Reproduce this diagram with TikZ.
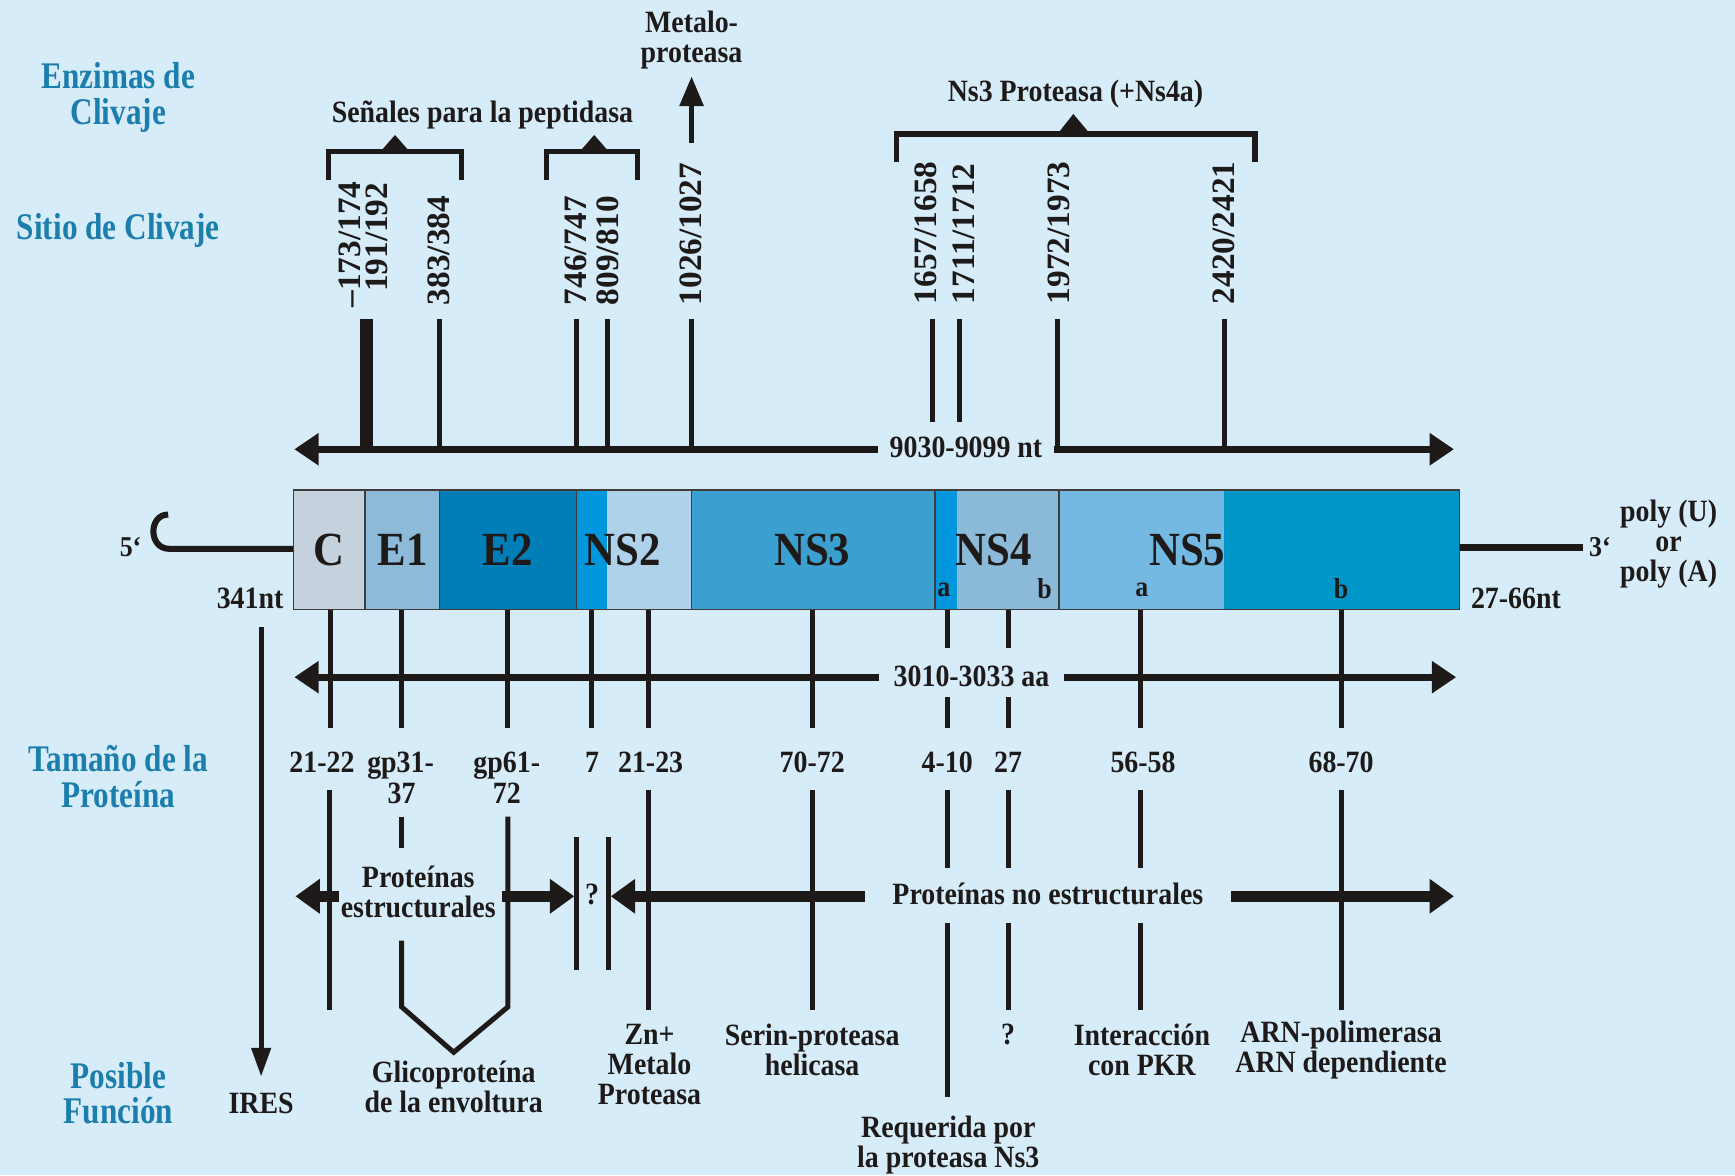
\documentclass[tikz,border=0pt]{standalone}
\usepackage{fontspec}
\setmainfont{Liberation Serif}[FakeStretch=0.9]
\newfontfamily\bluefam{Liberation Serif}[FakeStretch=0.83]
\newfontfamily\sitefam{Liberation Serif}[FakeStretch=1.02]
\usetikzlibrary{arrows.meta}
\definecolor{bg}{RGB}{214,236,248}
\definecolor{lbl}{RGB}{28,126,172}
\definecolor{ink}{RGB}{30,26,26}
\definecolor{cC}{RGB}{197,210,222}
\definecolor{cE1}{RGB}{140,186,216}
\definecolor{cE2}{RGB}{0,126,184}
\definecolor{cSt}{RGB}{0,150,220}
\definecolor{cNS2}{RGB}{173,210,234}
\definecolor{cNS3}{RGB}{59,160,208}
\definecolor{cNS4}{RGB}{139,185,216}
\definecolor{cNS5a}{RGB}{116,185,226}
\definecolor{cNS5b}{RGB}{0,150,200}
\begin{document}
\begin{tikzpicture}[x=1pt,y=-1pt,
  every node/.style={inner sep=0pt,text=ink},
  tx/.style={font=\fontsize{28}{27}\selectfont\bfseries,align=center},
  blab/.style={font=\bluefam\fontsize{34}{32}\selectfont\bfseries,text=lbl,align=center},
  site/.style={font=\sitefam\fontsize{29.5}{30}\selectfont\bfseries,rotate=90},
  segl/.style={font=\fontsize{43}{44}\selectfont\bfseries},
  sub/.style={font=\fontsize{26}{26}\selectfont\bfseries},
  tick/.style={draw=ink,line width=4.5pt},
  brk/.style={draw=ink,line width=5pt},
  tri/.style={fill=ink},
  scalearrow/.style={draw=ink,line width=6.5pt,-{Triangle[length=22pt,width=28pt]}},
  fatarrow/.style={draw=ink,line width=9.5pt,-{Triangle[length=22pt,width=30pt]}},
  border/.style={draw=ink!85,line width=1.3pt}
]
\fill[bg] (0,0) rectangle (1568,1062);
\useasboundingbox (0,0) rectangle (1568,1062);

% row titles
\node[blab] (enz) at (107,88) {Enzimas de\\Clivaje};
\node[blab] (sit) at (107,208) {Sitio de Clivaje};
\node[blab] (tam) at (107,702) {Tamaño de la\\Proteína};
\node[blab] (pos) at (107,988) {Posible\\Función};

% brackets
\coordinate (b1a) at (297,163); \coordinate (b1b) at (297,137);
\coordinate (b1c) at (417,137); \coordinate (b1d) at (417,163);
\draw[brk] (b1a) -- (b1b) -- (b1c) -- (b1d);
\fill[tri] (343,138) -- (357,122) -- (371,138) -- cycle;
\coordinate (b2a) at (494,163); \coordinate (b2b) at (494,137);
\coordinate (b2c) at (576,137); \coordinate (b2d) at (576,163);
\draw[brk] (b2a) -- (b2b) -- (b2c) -- (b2d);
\fill[tri] (523,138) -- (537,122) -- (551,138) -- cycle;
\coordinate (b3a) at (810,146); \coordinate (b3b) at (810,121);
\coordinate (b3c) at (1134,121); \coordinate (b3d) at (1134,146);
\draw[brk] (b3a) -- (b3b) -- (b3c) -- (b3d);
\fill[tri] (955,122) -- (970,103) -- (986,122) -- cycle;

\node[tx] (sen) at (436,104) {Señales para la peptidasa};
\node[tx] (ns3p) at (972,85) {Ns3 Proteasa (+Ns4a)};
\node[tx] (met) at (625,36) {Metalo-\\proteasa};
\coordinate (metbot) at (625,129); \coordinate (mettip) at (625,69);
\draw[draw=ink,line width=5pt,-{Triangle[length=27pt,width=21pt]}] (metbot) -- (mettip);

% cleavage sites
\node[site,anchor=east] (s1) at (316,164) {\textendash173/174};
\node[site,anchor=east] (s2) at (341,165) {191/192};
\node[site,anchor=west] (s3) at (397,276) {383/384};
\node[site,anchor=west] (s4) at (520,276) {746/747};
\node[site,anchor=west] (s5) at (549,276) {809/810};
\node[site,anchor=west] (s6) at (624,276) {1026/1027};
\node[site,anchor=west] (s7) at (837,275) {1657/1658};
\node[site,anchor=west] (s8) at (871,275) {1711/1712};
\node[site,anchor=west] (s9) at (957,275) {1972/1973};
\node[site,anchor=west] (s10) at (1106,275) {2420/2421};

\foreach \n/\x/\yb in {b/397/406,c/521/406,d/549/406,e/625/406,f/843/381,g/867/381,h/956/406,i/1107/406}{
  \coordinate (tt\n) at (\x,288); \coordinate (tb\n) at (\x,\yb);
  \draw[tick] (tt\n) -- (tb\n);
}
\coordinate (tta) at (331,288); \coordinate (tba) at (331,406);
\draw[draw=ink,line width=12pt] (tta) -- (tba);

% nt scale
\node[tx,inner xsep=10pt] (nt) at (873,404) {9030-9099 nt};
\coordinate (ntL) at (266,406); \coordinate (ntR) at (1314,406);
\draw[scalearrow] (nt.west |- ntL) -- (ntL);
\draw[scalearrow] (nt.east |- ntR) -- (ntR);

% genome bar
\fill[cC] (265,443) rectangle (330,551);
\fill[cE1] (330,443) rectangle (397,551);
\fill[cE2] (397,443) rectangle (521,551);
\fill[cSt] (521,443) rectangle (549,551);
\fill[cNS2] (549,443) rectangle (625,551);
\fill[cNS3] (625,443) rectangle (845,551);
\fill[cSt] (845,443) rectangle (865,551);
\fill[cNS4] (865,443) rectangle (957,551);
\fill[cNS5a] (957,443) rectangle (1106,551);
\fill[cNS5b] (1106,443) rectangle (1319,551);
\foreach \x in {330,397,521,625,845,957}{\draw[border] (\x,443) -- (\x,551);}
\draw[border] (265,443) rectangle (1319,551);

\node[segl] (lC) at (297,497) {C};
\node[segl] (lE1) at (364,497) {E1};
\node[segl] (lE2) at (459,497) {E2};
\node[segl] (lNS2) at (563,497) {NS2};
\node[segl] (lNS3) at (734,497) {NS3};
\node[segl] (lNS4) at (898,497) {NS4};
\node[segl] (lNS5) at (1073,497) {NS5};
\node[sub] (na) at (853,533) {a};
\node[sub] (nb) at (944,532) {b};
\node[sub] (n5a) at (1032,533) {a};
\node[sub] (n5b) at (1212,532) {b};

% ends
\node[sub] (p5) at (118,494) {5`};
\coordinate (hookTop) at (152,465); \coordinate (hookBot) at (153,496); \coordinate (barW) at (265,496);
\draw[draw=ink,line width=5.5pt] (hookTop) .. controls (134,465) and (134,496) .. (hookBot) -- (barW);
\coordinate (barE) at (1319,495); \coordinate (tail3) at (1431,495);
\draw[draw=ink,line width=6pt] (barE) -- (tail3);
\node[sub] (p3) at (1446,494) {3`};
\node[tx] (poly) at (1508,492) {poly (U)\\or\\poly (A)};
\node[tx] (n341) at (226,541) {341nt};
\node[tx] (n2766) at (1370,541) {27-66nt};

% aa scale
\node[tx,inner xsep=13pt] (aa) at (878,611) {3010-3033 aa};
\coordinate (aaL) at (266,612); \coordinate (aaR) at (1316,612);
\draw[scalearrow] (aa.west |- aaL) -- (aaL);
\draw[scalearrow] (aa.east |- aaR) -- (aaR);

% lines from bar
\foreach \n/\x in {1/299,2/363,3/459,4/535,5/586,6/734,7/1031,8/1212}{
  \coordinate (ua\n) at (\x,551); \coordinate (ub\n) at (\x,658);
  \draw[tick] (ua\n) -- (ub\n);
}
\foreach \n/\x in {9/856,10/911}{
  \coordinate (ua\n) at (\x,551); \coordinate (uc\n) at (\x,586);
  \coordinate (ud\n) at (\x,630); \coordinate (ub\n) at (\x,658);
  \draw[tick] (ua\n) -- (uc\n);
  \draw[tick] (ud\n) -- (ub\n);
}

% sizes
\node[tx,anchor=base] (z1) at (291,698) {21-22};
\node[tx,anchor=base] (z2) at (362,698) {gp31-};
\node[tx,anchor=base] (z2b) at (363,726) {37};
\node[tx,anchor=base] (z3) at (458,698) {gp61-};
\node[tx,anchor=base] (z3b) at (458,726) {72};
\node[tx,anchor=base] (z4) at (535,698) {7};
\node[tx,anchor=base] (z5) at (588,698) {21-23};
\node[tx,anchor=base] (z6) at (734,698) {70-72};
\node[tx,anchor=base] (z7) at (856,698) {4-10};
\node[tx,anchor=base] (z8) at (911,698) {27};
\node[tx,anchor=base] (z9) at (1033,698) {56-58};
\node[tx,anchor=base] (z10) at (1212,698) {68-70};

% lines below sizes
\foreach \n/\x/\ya/\yb in {1/298/714/913,2/586/714/913,3/734/714/913,4/1212/714/913,5/856/714/784,6/856/834/991,7/911/714/784,8/911/834/913,9/1031/714/784,10/1031/834/913,11/363/738/766}{
  \coordinate (la\n) at (\x,\ya); \coordinate (lb\n) at (\x,\yb);
  \draw[tick] (la\n) -- (lb\n);
}
\coordinate (v1) at (363,850); \coordinate (v2) at (363,910); \coordinate (v3) at (410,951);
\coordinate (v4) at (459,910); \coordinate (v5) at (459,738);
\draw[tick] (v1) -- (v2) -- (v3) -- (v4) -- (v5);

% ? bars
\coordinate (q1t) at (521,756); \coordinate (q1b) at (521,877);
\coordinate (q2t) at (550,756); \coordinate (q2b) at (550,877);
\draw[tick] (q1t) -- (q1b);
\draw[tick] (q2t) -- (q2b);
\node[tx] (qm) at (535,808) {?};

% structural / non-structural arrows
\node[tx] (se) at (378,806) {Proteínas\\estructurales};
\coordinate (seL0) at (306,810); \coordinate (seL) at (267,810);
\coordinate (seR0) at (454,810); \coordinate (seR) at (519,810);
\draw[fatarrow] (seL0) -- (seL);
\draw[fatarrow] (seR0) -- (seR);
\node[tx,inner xsep=25pt] (nse) at (947,808) {Proteínas no estructurales};
\coordinate (nsL) at (552,810); \coordinate (nsR) at (1314,810);
\draw[fatarrow] (nse.west |- nsL) -- (nsL);
\draw[fatarrow] (nse.east |- nsR) -- (nsR);

% IRES arrow
\coordinate (irT) at (236,567); \coordinate (irB) at (236,973);
\draw[tick,-{Triangle[length=26pt,width=17pt]}] (irT) -- (irB);

% functions
\node[tx] (f1) at (236,997) {IRES};
\node[tx] (f2) at (410,982) {Glicoproteína\\de la envoltura};
\node[tx] (f3) at (587,962) {Zn+\\Metalo\\Proteasa};
\node[tx] (f4) at (734,949) {Serin-proteasa\\helicasa};
\node[tx] (f5) at (857,1035) {Requerida por\\la proteasa Ns3};
\node[tx] (f6) at (911,935) {?};
\node[tx] (f7) at (1032,949) {Interacción\\con PKR};
\node[tx] (f8) at (1212,949) {ARN-polimerasa\\ARN dependiente};
\end{tikzpicture}
\end{document}
